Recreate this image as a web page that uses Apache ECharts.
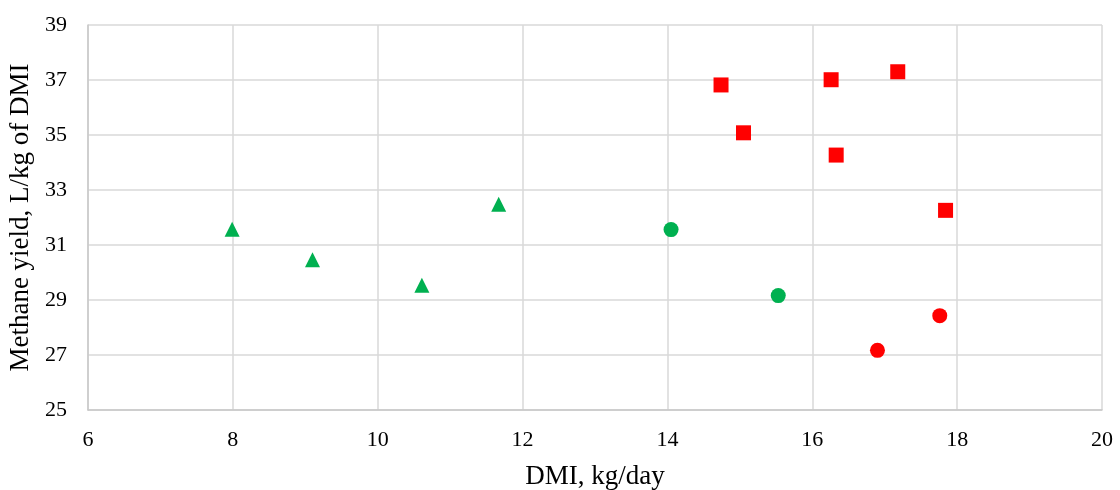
<!DOCTYPE html>
<html>
<head>
<meta charset="utf-8">
<script src="https://cdn.jsdelivr.net/npm/echarts@6/dist/echarts.min.js"></script>
<style>
html,body{margin:0;padding:0;background:#fff;}
#c{width:1120px;height:490px;}
</style>
</head>
<body>
<div id="c"></div>
<script>
// Data
const greenTriangles = [[7.99, 31.57], [9.10, 30.46], [10.61, 29.54], [11.67, 32.48]];
const greenCircles = [[14.05, 31.56], [15.53, 29.16]];
const redCircles = [[16.90, 27.17], [17.76, 28.43]];
const redSquares = [[14.74, 36.82], [15.05, 35.08], [16.26, 37.01], [16.33, 34.27], [17.18, 37.30], [17.84, 32.26]];
const xTitle = 'DMI, kg/day';
const yTitle = 'Methane yield, L/kg of DMI';

const FONT = '"Liberation Serif", "DejaVu Serif", serif';
const chart = echarts.init(document.getElementById('c'), null, {renderer: 'canvas'});
const axisCommon = {
  axisLine: {show: true, lineStyle: {color: '#c8c8c8', width: 1.5}},
  axisTick: {show: false},
  splitLine: {show: true, lineStyle: {color: '#d9d9d9', width: 1.5}},
  axisLabel: {color: '#000', fontFamily: FONT, fontSize: 22}
};
function series(data, symbol, color) {
  return {type: 'scatter', data: data, symbol: symbol, symbolSize: 15,
    itemStyle: {color: color, opacity: 1}, emphasis: {disabled: true}};
}
chart.setOption({
  animation: false,
  backgroundColor: '#fff',
  grid: {left: 88, right: 18, top: 25, bottom: 80, containLabel: false, outerBoundsMode: 'none'},
  xAxis: Object.assign({}, axisCommon, {
    type: 'value', min: 6, max: 20, interval: 2,
    axisLabel: Object.assign({}, axisCommon.axisLabel, {margin: 19}),
    name: xTitle, nameLocation: 'middle', nameGap: 53,
    nameTextStyle: {color: '#000', fontFamily: FONT, fontSize: 27}
  }),
  yAxis: Object.assign({}, axisCommon, {
    type: 'value', min: 25, max: 39, interval: 2,
    axisLabel: Object.assign({}, axisCommon.axisLabel, {margin: 21}),
    name: yTitle, nameLocation: 'middle', nameGap: 52, nameRotate: 90,
    nameTextStyle: {color: '#000', fontFamily: FONT, fontSize: 27}
  }),
  series: [
    series(greenTriangles, 'triangle', '#00B050'),
    series(greenCircles, 'circle', '#00B050'),
    series(redCircles, 'circle', '#FF0000'),
    series(redSquares, 'rect', '#FF0000')
  ]
});
</script>
</body>
</html>
